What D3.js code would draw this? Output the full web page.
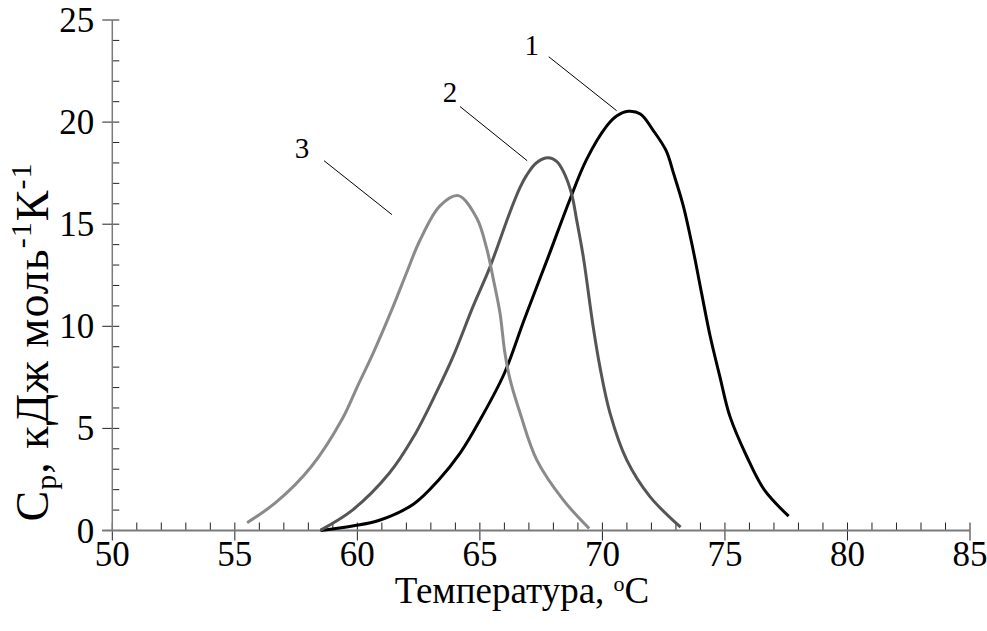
<!DOCTYPE html>
<html><head><meta charset="utf-8">
<script src="https://cdn.jsdelivr.net/npm/d3@7"></script>
<style>body{margin:0;background:#fff;} text{font-family:"Liberation Serif","Times New Roman",serif;}</style>
</head><body><svg id="c" width="987" height="631"></svg>
<script>
const xTicks = [50, 55, 60, 65, 70, 75, 80, 85];
const yTicks = [0, 5, 10, 15, 20, 25];
const T1 = [58.5, 59.8, 60.9, 62.3, 63.3, 64.2, 65.0, 66.0, 66.8, 67.79, 68.67, 69.35, 70.17, 70.58, 71.05, 71.55, 72.07, 72.6, 72.9, 73.3, 73.7, 74.05, 74.4, 74.8, 75.2, 75.9, 76.6, 77.6];
const Cp1 = [0, 0.22, 0.5, 1.3, 2.45, 3.8, 5.4, 7.7, 10.3, 13.4, 16.2, 18.16, 19.8, 20.3, 20.53, 20.4, 19.6, 18.6, 17.5, 15.9, 13.75, 11.6, 9.5, 7.5, 5.6, 3.6, 2.0, 0.7];
const T2 = [58.5, 59.8, 61.3, 62.3, 63.2, 63.9, 64.73, 65.41, 66.23, 66.64, 66.91, 67.3, 67.79, 68.13, 68.4, 68.74, 68.95, 69.22, 69.62, 69.9, 70.31, 70.99, 71.94, 73.19];
const Cp2 = [0.02, 1.0, 2.8, 4.6, 6.7, 8.5, 11.0, 12.9, 15.6, 16.8, 17.4, 18.0, 18.25, 18.08, 17.6, 16.5, 15.2, 13.4, 10.0, 8.0, 5.75, 3.46, 1.66, 0.16];
const T3 = [55.5, 56.7, 58.1, 59.4, 60.0, 60.65, 61.47, 62.0, 62.55, 63.37, 64.12, 64.87, 65.28, 65.55, 65.82, 66.02, 66.23, 66.64, 67.32, 68.4, 69.46];
const Cp3 = [0.38, 1.4, 3.1, 5.5, 7.05, 8.7, 11.0, 12.6, 14.2, 15.9, 16.4, 15.3, 13.8, 12.3, 10.65, 8.7, 7.4, 5.75, 3.46, 1.5, 0.1];
const seriesNames = ["1", "2", "3"];
// annotation: label position and leader line ends, in data units
const annLabelT = [67.12, 63.78, 57.74];
const annLabelCp = [23.8, 21.45, 18.75];
const annLineT0 = [67.81, 64.19, 58.64];
const annLineCp0 = [23.2, 20.76, 18.11];
const annLineT1 = [70.58, 66.93, 61.41];
const annLineCp1 = [20.56, 18.11, 15.47];

const colors = ["#000000", "#555555", "#8a8a8a"];
const FS = 35;
const svg = d3.select("#c");
const x = d3.scaleLinear().domain([50, 85]).range([112.3, 970]);
const y = d3.scaleLinear().domain([0, 25]).range([530.5, 20]);

const g = svg.append("g");
const xMinor = d3.range(51, 85, 1).filter(v => v % 5 !== 0);
const yMinor = d3.range(1, 25, 1).filter(v => v % 5 !== 0);
g.selectAll(".xm").data(xMinor).join("line")
  .attr("x1", d => x(d)).attr("x2", d => x(d))
  .attr("y1", y(0) - 8).attr("y2", y(0)).attr("stroke", "#222").attr("stroke-width", 1);
g.selectAll(".ym").data(yMinor).join("line")
  .attr("y1", d => y(d)).attr("y2", d => y(d))
  .attr("x1", x(50)).attr("x2", x(50) + 7).attr("stroke", "#222").attr("stroke-width", 1);
g.selectAll(".xM").data(xTicks).join("line")
  .attr("x1", d => x(d)).attr("x2", d => x(d))
  .attr("y1", y(0) - 8).attr("y2", y(0) + 10).attr("stroke", "#222").attr("stroke-width", 1);
g.selectAll(".yM").data(yTicks).join("line")
  .attr("y1", d => y(d)).attr("y2", d => y(d))
  .attr("x1", x(50) - 10).attr("x2", x(50) + 7).attr("stroke", "#222").attr("stroke-width", 1);
g.append("line").attr("x1", x(50) - 10).attr("x2", x(85)).attr("y1", y(0)).attr("y2", y(0))
  .attr("stroke", "#7a7a7a").attr("stroke-width", 2);
g.append("line").attr("x1", x(50)).attr("x2", x(50)).attr("y1", y(0)).attr("y2", y(25))
  .attr("stroke", "#7a7a7a").attr("stroke-width", 1.5);

g.selectAll(".xl").data(xTicks).join("text")
  .attr("x", d => x(d)).attr("y", y(0) + 35).attr("text-anchor", "middle")
  .attr("font-size", FS).text(d => d);
g.selectAll(".yl").data(yTicks).join("text")
  .attr("x", x(50) - 18).attr("y", d => y(d) + 12).attr("text-anchor", "end")
  .attr("font-size", FS).text(d => d);

const xt = svg.append("text").attr("x", 522).attr("y", 603).attr("text-anchor", "middle").attr("font-size", 37);
xt.append("tspan").text("Температура, ");
xt.append("tspan").attr("font-size", 22).attr("dy", -12).text("o");
xt.append("tspan").attr("dy", 12).text("C");

const yt = svg.append("text").attr("transform", "translate(48,342) rotate(-90)").attr("text-anchor", "middle")
  .attr("font-size", 46).attr("letter-spacing", 1);
yt.append("tspan").text("C");
yt.append("tspan").attr("font-size", 30).attr("dy", 8).text("p");
yt.append("tspan").attr("dy", -8).text(", кДж моль");
yt.append("tspan").attr("font-size", 30).attr("dy", -17).text("-1");
yt.append("tspan").attr("dy", 17).text("К");
yt.append("tspan").attr("font-size", 30).attr("dy", -17).text("-1");

const line = d3.line().x(d => x(d[0])).y(d => y(d[1])).curve(d3.curveCatmullRom.alpha(0.5));
const series = [[T1, Cp1], [T2, Cp2], [T3, Cp3]];
series.forEach((s, i) => {
  const pts = s[0].map((t, k) => [t, s[1][k]]);
  svg.append("path").attr("d", line(pts)).attr("fill", "none")
    .attr("stroke", colors[i]).attr("stroke-width", 3).attr("stroke-linejoin", "round");
});

seriesNames.forEach((n, i) => {
  svg.append("line").attr("x1", x(annLineT0[i])).attr("y1", y(annLineCp0[i]))
    .attr("x2", x(annLineT1[i])).attr("y2", y(annLineCp1[i])).attr("stroke", "#000").attr("stroke-width", 1);
  svg.append("text").attr("x", x(annLabelT[i])).attr("y", y(annLabelCp[i]) + 10)
    .attr("text-anchor", "middle").attr("font-size", 29).text(n);
});
</script></body></html>
